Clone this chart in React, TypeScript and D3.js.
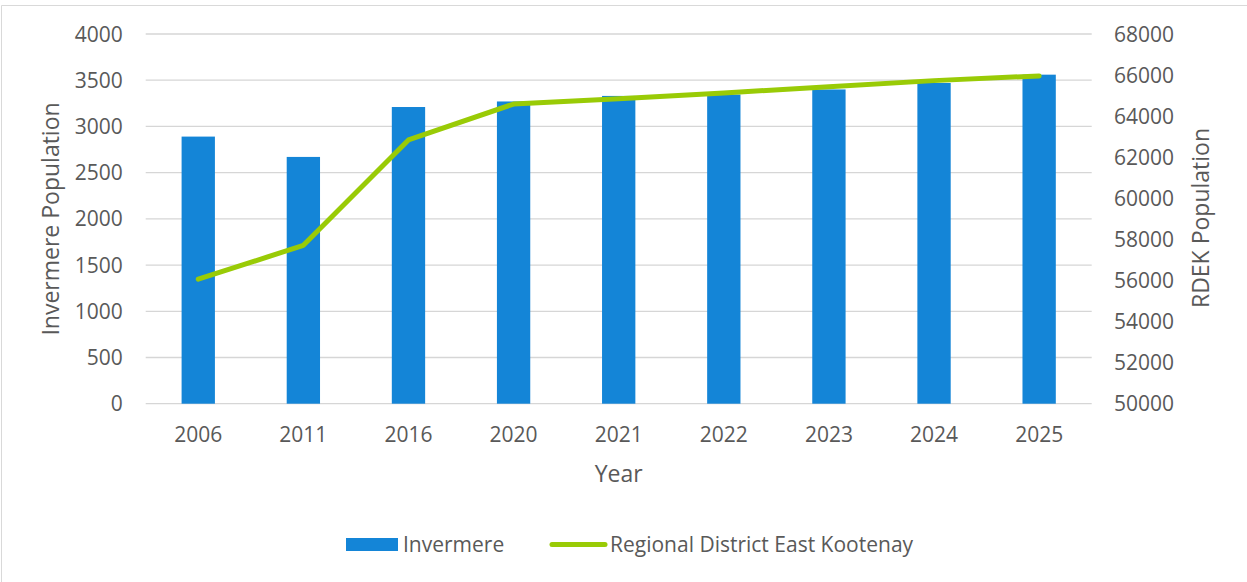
import React, { useRef, useEffect } from 'react';
import * as d3 from 'd3';

const years: string[] = ['2006', '2011', '2016', '2020', '2021', '2022', '2023', '2024', '2025'];
const invermere: number[] = [2890, 2670, 3210, 3270, 3330, 3345, 3400, 3470, 3560];
const rdek: number[] = [56060, 57710, 62840, 64590, 64850, 65130, 65430, 65730, 65960];
const leftTicks: number[] = [0, 500, 1000, 1500, 2000, 2500, 3000, 3500, 4000];
const rightTicks: number[] = [50000, 52000, 54000, 56000, 58000, 60000, 62000, 64000, 66000, 68000];

const width = 1247;
const height = 582;
const barColor = '#1485d7';
const lineColor = '#99cb06';
const textColor = '#595959';
const font = '"Open Sans", "DejaVu Sans", sans-serif';

function App() {
    const d3Container = useRef<SVGSVGElement>(null);

    useEffect(() => {
        if (!d3Container.current) return;
        const svg = d3.select(d3Container.current);
        svg.selectAll('*').remove();

        const plot = { left: 145.7, right: 1091.7, top: 34, bottom: 403.7 };

        const x = d3.scalePoint<string>().domain(years).range([plot.left, plot.right]).padding(0.5);
        const yLeft = d3.scaleLinear().domain([0, 4000]).range([plot.bottom, plot.top]);
        const yRight = d3.scaleLinear().domain([50000, 68000]).range([plot.bottom, plot.top]);
        const barW = x.step() * 0.317;

        // chart frame (top and left edges only visible)
        svg.append('line').attr('x1', 1.5).attr('x2', width).attr('y1', 5.5).attr('y2', 5.5)
            .attr('stroke', '#d9d9d9').attr('stroke-width', 1);
        svg.append('line').attr('x1', 1.5).attr('x2', 1.5).attr('y1', 5.5).attr('y2', height)
            .attr('stroke', '#d9d9d9').attr('stroke-width', 1);

        // gridlines
        svg.append('g')
            .selectAll('line')
            .data(leftTicks)
            .join('line')
                .attr('x1', plot.left).attr('x2', plot.right)
                .attr('y1', d => yLeft(d)).attr('y2', d => yLeft(d))
                .attr('stroke', '#d6d6d6').attr('stroke-width', 1.3);

        // bars
        svg.append('g')
            .selectAll('rect')
            .data(invermere)
            .join('rect')
                .attr('x', (d, i) => (x(years[i]) as number) - barW / 2)
                .attr('y', d => yLeft(d))
                .attr('width', barW)
                .attr('height', d => yLeft(0) - yLeft(d))
                .attr('fill', barColor);

        // line
        const line = d3.line<number>()
            .x((d, i) => x(years[i]) as number)
            .y(d => yRight(d));
        svg.append('path')
            .datum(rdek)
            .attr('d', line)
            .attr('fill', 'none')
            .attr('stroke', lineColor)
            .attr('stroke-width', 5)
            .attr('stroke-linecap', 'round')
            .attr('stroke-linejoin', 'round');

        const txt = svg.append('g')
            .attr('font-family', font)
            .attr('font-size', 21)
            .attr('fill', textColor);

        // left axis labels
        txt.append('g')
            .attr('text-anchor', 'end')
            .selectAll('text')
            .data(leftTicks)
            .join('text')
                .attr('x', 122.7)
                .attr('y', d => yLeft(d))
                .attr('dy', '0.36em')
                .text(d => String(d));

        // right axis labels
        txt.append('g')
            .attr('text-anchor', 'start')
            .selectAll('text')
            .data(rightTicks)
            .join('text')
                .attr('x', 1114)
                .attr('y', d => yRight(d))
                .attr('dy', '0.36em')
                .text(d => String(d));

        // x labels
        txt.append('g')
            .attr('text-anchor', 'middle')
            .selectAll('text')
            .data(years)
            .join('text')
                .attr('x', d => x(d) as number)
                .attr('y', 442)
                .text(d => d);

        // axis titles
        const titles = txt.append('g').attr('font-size', 23);
        titles.append('text')
            .attr('x', (plot.left + plot.right) / 2)
            .attr('y', 482)
            .attr('text-anchor', 'middle')
            .text('Year');
        titles.append('text')
            .attr('transform', 'translate(51,219) rotate(-90)')
            .attr('text-anchor', 'middle')
            .attr('dy', '0.36em')
            .text('Invermere Population');
        titles.append('text')
            .attr('transform', 'translate(1201,218) rotate(-90)')
            .attr('text-anchor', 'middle')
            .attr('dy', '0.36em')
            .text('RDEK Population');

        // legend
        const legend = svg.append('g');
        legend.append('rect')
            .attr('x', 346).attr('y', 538).attr('width', 52).attr('height', 13)
            .attr('fill', barColor);
        legend.append('line')
            .attr('x1', 552).attr('x2', 605).attr('y1', 544.5).attr('y2', 544.5)
            .attr('stroke', lineColor).attr('stroke-width', 5).attr('stroke-linecap', 'round');
        txt.append('text').attr('x', 403).attr('y', 544.5).attr('dy', '0.36em').text('Invermere');
        txt.append('text').attr('x', 610).attr('y', 544.5).attr('dy', '0.36em').text('Regional District East Kootenay');
    }, []);

    return (
        <svg
            ref={d3Container}
            width={width}
            height={height}
            style={{ position: 'absolute', left: 0, top: 0, background: '#fff' }}
        />
    );
}

export default App;
